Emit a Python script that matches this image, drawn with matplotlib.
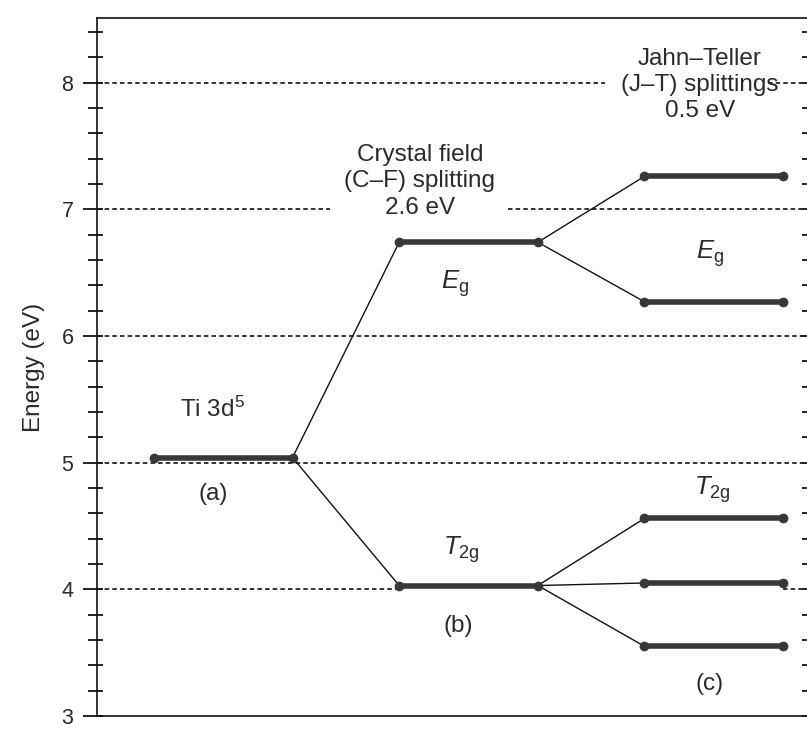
import matplotlib
matplotlib.use("Agg")
import matplotlib.pyplot as plt
from matplotlib.ticker import MultipleLocator, NullFormatter

plt.rcParams["font.family"] = ["Liberation Sans", "DejaVu Sans"]
plt.rcParams["mathtext.fontset"] = "custom"
plt.rcParams["mathtext.rm"] = "Liberation Sans"
plt.rcParams["mathtext.it"] = "Liberation Sans:italic"

# energy levels (eV) and their x extents (arbitrary column units)
level_a = [5.04]
level_b = [6.74, 4.03]            # Eg, T2g after crystal field
level_c = [7.26, 6.27, 4.56, 4.05, 3.55]   # after Jahn-Teller
col_a = (0.8, 2.75)
col_b = (4.25, 6.2)
col_c = (7.7, 9.65)

# which level feeds which (index pairs)
links_ab = [(0, 0), (0, 1)]
links_bc = [(0, 0), (0, 1), (1, 2), (1, 3), (1, 4)]

# dashed reference lines: (energy, x start, x end)
ref_lines = [
    (8, 0.0, 7.14), (8, 9.44, 10.0),
    (7, 0.0, 3.28), (7, 5.78, 10.0),
    (6, 0.0, 10.0),
    (5, 0.0, 10.0),
    (4, 0.0, 4.26), (4, 9.65, 10.0),
]

bar_col = "#383838"
txt_col = "#2a2a2a"

fig = plt.figure(figsize=(8.07, 7.30), dpi=100)
ax = fig.add_axes([97 / 807, 14 / 730, 711 / 807, 698 / 730])
ax.set_xlim(0, 10)
ax.set_ylim(3, 8.51)

for y, x0, x1 in ref_lines:
    ax.plot([x0, x1], [y, y], color="#1a1a1a", lw=1.25,
            linestyle=(0, (2.6, 1.8)), zorder=1)

def level(xs, y):
    ax.plot(xs, [y, y], color=bar_col, lw=4.0, solid_capstyle="round",
            marker="o", ms=6, zorder=3)

for y in level_a:
    level(col_a, y)
for y in level_b:
    level(col_b, y)
for y in level_c:
    level(col_c, y)

for i, j in links_ab:
    ax.plot([col_a[1], col_b[0]], [level_a[i], level_b[j]],
            color="#111111", lw=1.0, zorder=2)
for i, j in links_bc:
    ax.plot([col_b[1], col_c[0]], [level_b[i], level_c[j]],
            color="#111111", lw=1.0, zorder=2)

fs = 17.5
ax.text(4.54, 7.22, "Crystal field\n(C\u2013F) splitting\n2.6 eV", ha="center",
        va="center", fontsize=fs, color=txt_col, linespacing=1.25)
ax.text(8.48, 7.98, "Jahn\u2013Teller\n(J\u2013T) splittings\n0.5 eV", ha="center",
        va="center", fontsize=fs, color=txt_col, linespacing=1.25)
ax.text(1.62, 5.42, r"Ti 3d$^{5}$", ha="center", va="center", fontsize=fs, color=txt_col)
ax.text(1.63, 4.75, "(a)", ha="center", va="center", fontsize=fs, color=txt_col)
ax.text(5.04, 6.41, r"$E_{\rm g}$", ha="center", va="center", fontsize=fs + 1, color=txt_col)
ax.text(5.13, 4.31, r"$T_{\rm 2g}$", ha="center", va="center", fontsize=fs + 1, color=txt_col)
ax.text(5.08, 3.71, "(b)", ha="center", va="center", fontsize=fs, color=txt_col)
ax.text(8.62, 6.65, r"$E_{\rm g}$", ha="center", va="center", fontsize=fs + 1, color=txt_col)
ax.text(8.65, 4.79, r"$T_{\rm 2g}$", ha="center", va="center", fontsize=fs + 1, color=txt_col)
ax.text(8.61, 3.25, "(c)", ha="center", va="center", fontsize=fs, color=txt_col)

ax.set_ylabel("Energy (eV)", fontsize=fs, color=txt_col, labelpad=12)

# axis styling
for s in ax.spines.values():
    s.set_linewidth(1.2)
    s.set_color("#111111")
ax.set_xticks([])
ax.yaxis.set_major_locator(MultipleLocator(1))
ax.yaxis.set_minor_locator(MultipleLocator(0.2))
ax.tick_params(axis="y", which="major", direction="out", length=10, width=1.2,
               labelsize=15.5, labelcolor=txt_col, pad=7)
ax.tick_params(axis="y", which="minor", direction="out", length=6.5, width=1.2)

# inward halves of left ticks and right-side inward ticks
for side in ("left", "right"):
    sec = ax.secondary_yaxis(side)
    sec.yaxis.set_major_locator(MultipleLocator(0.2))
    sec.yaxis.set_major_formatter(NullFormatter())
    sec.tick_params(direction="in", length=4.5, width=1.2)
    sec.spines[side].set_visible(False)

fig.savefig("out.png", dpi=100)
